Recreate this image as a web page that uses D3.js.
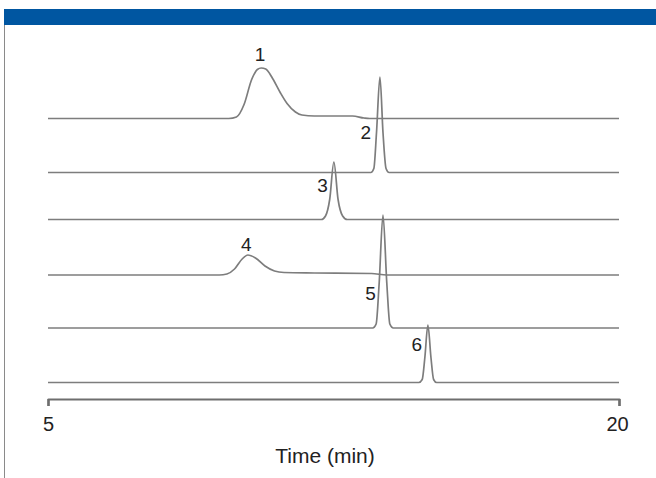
<!DOCTYPE html>
<html>
<head>
<meta charset="utf-8">
<script src="https://cdn.jsdelivr.net/npm/d3@7"></script>
<style>
  body { margin: 0; background: #fff; }
  svg text { font-family: "Liberation Sans", Arial, sans-serif; fill: #222; }
</style>
</head>
<body>
<svg width="656" height="478"></svg>
<script>
/* chromatogram data (time in min, signal in arbitrary units) */
var traceOffsets = [264, 210, 163, 107.5, 54.5, 0];

var trace1 = [[5, 0], [9.75, 0], [9.95, 1.5], [10.15, 14], [10.35, 39], [10.5, 49], [10.6, 50.5],
    [10.72, 49.5], [10.9, 40], [11.1, 26], [11.28, 15], [11.5, 6.5], [11.67, 3.5], [12.0, 2.5],
    [13.0, 2.5], [13.3, 0.5], [13.45, 0], [20, 0]];
var trace2 = [[5, 0], [13.48, 0], [13.56, 4], [13.63, 40], [13.72, 95.5], [13.8, 40],
    [13.88, 4], [13.96, 0], [20, 0]];
var trace3 = [[5, 0], [12.18, 0], [12.29, 3.5], [12.4, 20], [12.51, 57.5], [12.62, 20],
    [12.74, 3.5], [12.86, 0], [20, 0]];
var trace4 = [[5, 0], [9.5, 0], [9.7, 1], [9.9, 6], [10.1, 16], [10.25, 20], [10.45, 17],
    [10.7, 9], [10.95, 4], [11.2, 2.5], [12.0, 2], [13.5, 1.5], [13.9, 0], [20, 0]];
var trace5 = [[5, 0], [13.53, 0], [13.62, 4], [13.7, 45], [13.8, 113], [13.9, 45],
    [13.98, 4], [14.07, 0], [20, 0]];
var trace6 = [[5, 0], [14.74, 0], [14.83, 3], [14.9, 25], [14.98, 57.5], [15.06, 25],
    [15.13, 3], [15.21, 0], [20, 0]];

var traces = [trace1, trace2, trace3, trace4, trace5, trace6];

var peakNames = ["1", "2", "3", "4", "5", "6"];
var labelTimes = [10.57, 13.35, 12.21, 10.21, 13.47, 14.69];
var labelLevels = [321.5, 243.5, 190.5, 131.5, 82.5, 31.5];

var tickValues = [5, 20];
var xTitle = "Time (min)";

/* frame */
var svg = d3.select("svg");

svg.append("rect")
    .attr("x", 4).attr("y", 9)
    .attr("width", 652).attr("height", 16)
    .attr("fill", "#0056a1");

svg.append("line")
    .attr("x1", 4.5).attr("x2", 4.5)
    .attr("y1", 25).attr("y2", 478)
    .attr("stroke", "#8a8a8a").attr("stroke-width", 1);

/* scales */
var x = d3.scaleLinear().domain([5, 20]).range([48, 619]),
    y = d3.scaleLinear().domain([0, 320]).range([382.5, 62.5]);

var line = d3.line()
    .curve(d3.curveMonotoneX)
    .x(function(d) { return x(d[0]); })
    .y(function(d) { return y(d[1]); });

var g = svg.append("g");

g.selectAll(".trace")
    .data(traces)
    .enter().append("path")
    .attr("class", "trace")
    .attr("fill", "none")
    .attr("stroke", "#7d7d7d")
    .attr("stroke-width", 1.7)
    .attr("d", function(d, i) {
        var off = traceOffsets[i];
        return line(d.map(function(p) { return [p[0], p[1] + off]; }));
    });

/* peak numbers */
g.selectAll(".peak-label")
    .data(peakNames)
    .enter().append("text")
    .attr("class", "peak-label")
    .attr("x", function(d, i) { return x(labelTimes[i]); })
    .attr("y", function(d, i) { return y(labelLevels[i]); })
    .attr("text-anchor", "middle")
    .style("font-size", "19px")
    .text(function(d) { return d; });

/* x axis as a bracket */
var axis = svg.append("g")
    .attr("class", "axis axis--x")
    .attr("transform", "translate(0,399)")
    .call(d3.axisBottom(x).tickValues(tickValues).tickSizeInner(7).tickSizeOuter(7).tickPadding(11));

axis.select(".domain")
    .attr("stroke", "#6e6e6e")
    .attr("stroke-width", 2.2)
    .attr("stroke-linejoin", "round");
axis.selectAll(".tick line").attr("stroke", "#6e6e6e").attr("stroke-width", 2.2);
axis.selectAll(".tick text")
    .attr("fill", "#222")
    .style("font-size", "20px")
    .style("font-family", "'Liberation Sans', Arial, sans-serif");
axis.selectAll(".tick").filter(function(d) { return d === 20; })
    .select("text").attr("dx", "-2");

svg.append("text")
    .attr("x", 325)
    .attr("y", 463)
    .attr("text-anchor", "middle")
    .style("font-size", "21px")
    .text(xTitle);
</script>
</body>
</html>
